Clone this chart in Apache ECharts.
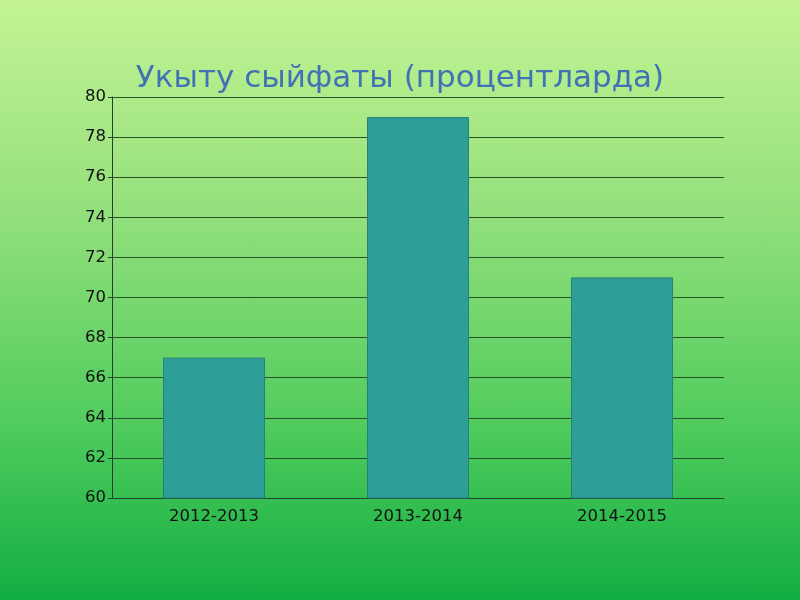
<!DOCTYPE html>
<html>
<head>
<meta charset="utf-8">
<script src="https://cdn.jsdelivr.net/npm/echarts@6/dist/echarts.min.js"></script>
<style>
  html, body { margin: 0; padding: 0; }
  #chart {
    width: 800px;
    height: 600px;
    background: linear-gradient(to bottom, #c4f494 0%, #94e07c 35%, #52cc5e 70%, #12ae42 100%);
  }
</style>
</head>
<body>
<div id="chart"></div>
<script>
// данные
var years = ["2012-2013", "2013-2014", "2014-2015"];
var quality = [67, 79, 71];
var titleText = "Укыту сыйфаты (процентларда)";

var myChart = echarts.init(document.getElementById("chart"));
myChart.setOption({
  title: {
    text: titleText,
    left: "center",
    top: 58,
    textStyle: {
      color: "#4272b6",
      fontFamily: "DejaVu Sans",
      fontWeight: "normal",
      fontSize: 31
    }
  },
  grid: {
    left: 112,
    right: 76,
    top: 97,
    bottom: 102
  },
  xAxis: {
    type: "category",
    data: years,
    axisTick: { show: false },
    axisLine: { lineStyle: { color: "#24402a", width: 1 } },
    axisLabel: {
      color: "#111",
      fontFamily: "DejaVu Sans",
      fontSize: 16.5,
      margin: 10
    }
  },
  yAxis: {
    type: "value",
    min: 60,
    max: 80,
    interval: 2,
    axisLine: { show: true, lineStyle: { color: "#24402a", width: 1 } },
    axisTick: { show: true, length: 4, lineStyle: { color: "#24402a" } },
    axisLabel: {
      color: "#111",
      fontFamily: "DejaVu Sans",
      fontSize: 16.5,
      margin: 6
    },
    splitLine: {
      show: true,
      lineStyle: { color: "#28522a", width: 1.2 }
    }
  },
  series: [
    {
      type: "bar",
      data: quality,
      barWidth: "50%",
      itemStyle: {
        color: "#2e9e98",
        borderColor: "#2a7f78",
        borderWidth: 1
      }
    }
  ]
});
</script>
</body>
</html>
